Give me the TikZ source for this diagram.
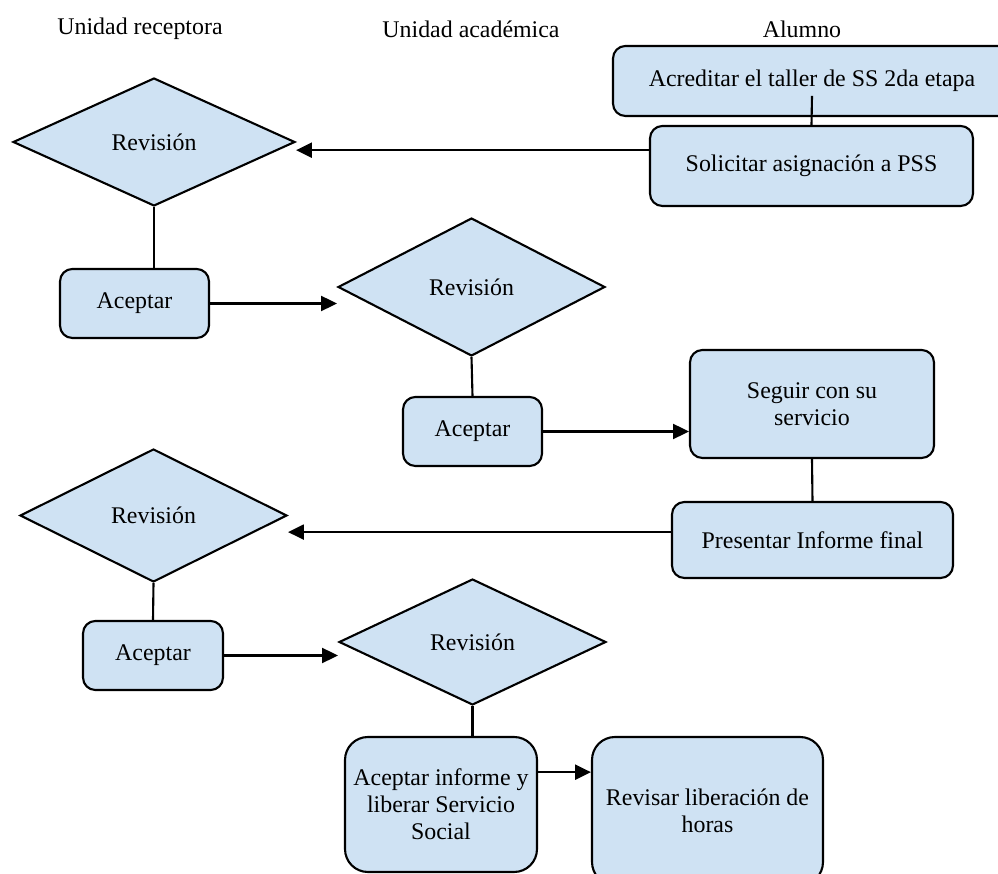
\documentclass[tikz,border=0pt]{standalone}
\usepackage{fontspec}
\setmainfont{Liberation Serif}
\usepackage{tikz}
\usetikzlibrary{positioning, shapes.geometric, arrows.meta}

\definecolor{cajaazul}{RGB}{207,226,243}

\tikzset{
    caja/.style={draw, rectangle, rounded corners=7pt, fill=cajaazul, line width=1.2pt, align=center, inner sep=2pt},
    rombo/.style={draw, diamond, aspect=2, fill=cajaazul, line width=1.2pt, inner sep=0pt},
    titulo/.style={inner sep=0pt},
    flecha/.style={-{Triangle[length=9pt, width=8.5pt]}, line width=1.2pt},
    linea/.style={line width=1.2pt}
}

\begin{document}
\begin{tikzpicture}[x=0.02cm, y=-0.02cm, every node/.style={font=\fontsize{13.6}{15.4}\selectfont}]
\clip (0,0) rectangle (998,874);

\node[titulo] (hdrRecep) at (140,29) {Unidad receptora};
\node[titulo] (hdrAcad) at (471,29) {Unidad académica};
\node[titulo] (hdrAlum) at (802,29) {Alumno};

\node[caja, minimum width=7.96cm, minimum height=1.4cm] (acred) at (812,81) {Acreditar el taller de SS 2da etapa};
\node[caja, minimum width=6.46cm, minimum height=1.6cm] (solic) at (811.5,166) {Solicitar asignación a PSS};
\node[rombo, minimum width=5.64cm, minimum height=2.56cm] (rev1) at (154,142) {Revisión};
\node[caja, minimum width=2.98cm, minimum height=1.38cm] (acep1) at (134.5,303.5) {Aceptar};
\node[rombo, minimum width=5.34cm, minimum height=2.76cm] (rev2) at (471.5,287) {Revisión};
\node[caja, minimum width=2.78cm, minimum height=1.38cm] (acep2) at (472.5,431.5) {Aceptar};
\node[caja, minimum width=4.88cm, minimum height=2.16cm] (seguir) at (812,404) {Seguir con su\\servicio};
\node[caja, minimum width=5.62cm, minimum height=1.52cm] (presen) at (812.5,540) {Presentar Informe final};
\node[rombo, minimum width=5.34cm, minimum height=2.66cm] (rev3) at (153.5,515.5) {Revisión};
\node[caja, minimum width=2.8cm, minimum height=1.38cm] (acep3) at (153,655.5) {Aceptar};
\node[rombo, minimum width=5.34cm, minimum height=2.52cm] (rev4) at (472.5,642) {Revisión};
\node[caja, rounded corners=13pt, minimum width=3.84cm, minimum height=2.7cm] (aceinf) at (441,804.5) {Aceptar informe y\\liberar Servicio\\Social};
\node[caja, rounded corners=13pt, minimum width=4.62cm, minimum height=2.96cm] (revis) at (707.5,811) {Revisar liberación de\\horas};

\draw[linea] ([yshift=12pt]acred.south) -- (solic.north);
\draw[flecha] ([yshift=9pt]solic.west) -- ([yshift=9pt]solic.west -| rev1.east);
\draw[linea] (rev1.south) -- (rev1.south |- acep1.north);
\draw[flecha] (acep1.east) -- (acep1.east -| rev2.west);
\draw[linea] (rev2.south) -- (acep2.north);
\draw[flecha] (acep2.east) -- (acep2.east -| seguir.west);
\draw[linea] (seguir.south) -- (presen.north);
\draw[flecha] ([yshift=4.5pt]presen.west) -- ([yshift=4.5pt]presen.west -| rev3.east);
\draw[linea] (rev3.south) -- (acep3.north);
\draw[flecha] (acep3.east) -- (acep3.east -| rev4.west);
\draw[linea] (rev4.south) -- (rev4.south |- aceinf.north);
\draw[flecha] ([yshift=18.4pt]aceinf.east) -- ([yshift=18.4pt]aceinf.east -| revis.west);
\end{tikzpicture}
\end{document}
